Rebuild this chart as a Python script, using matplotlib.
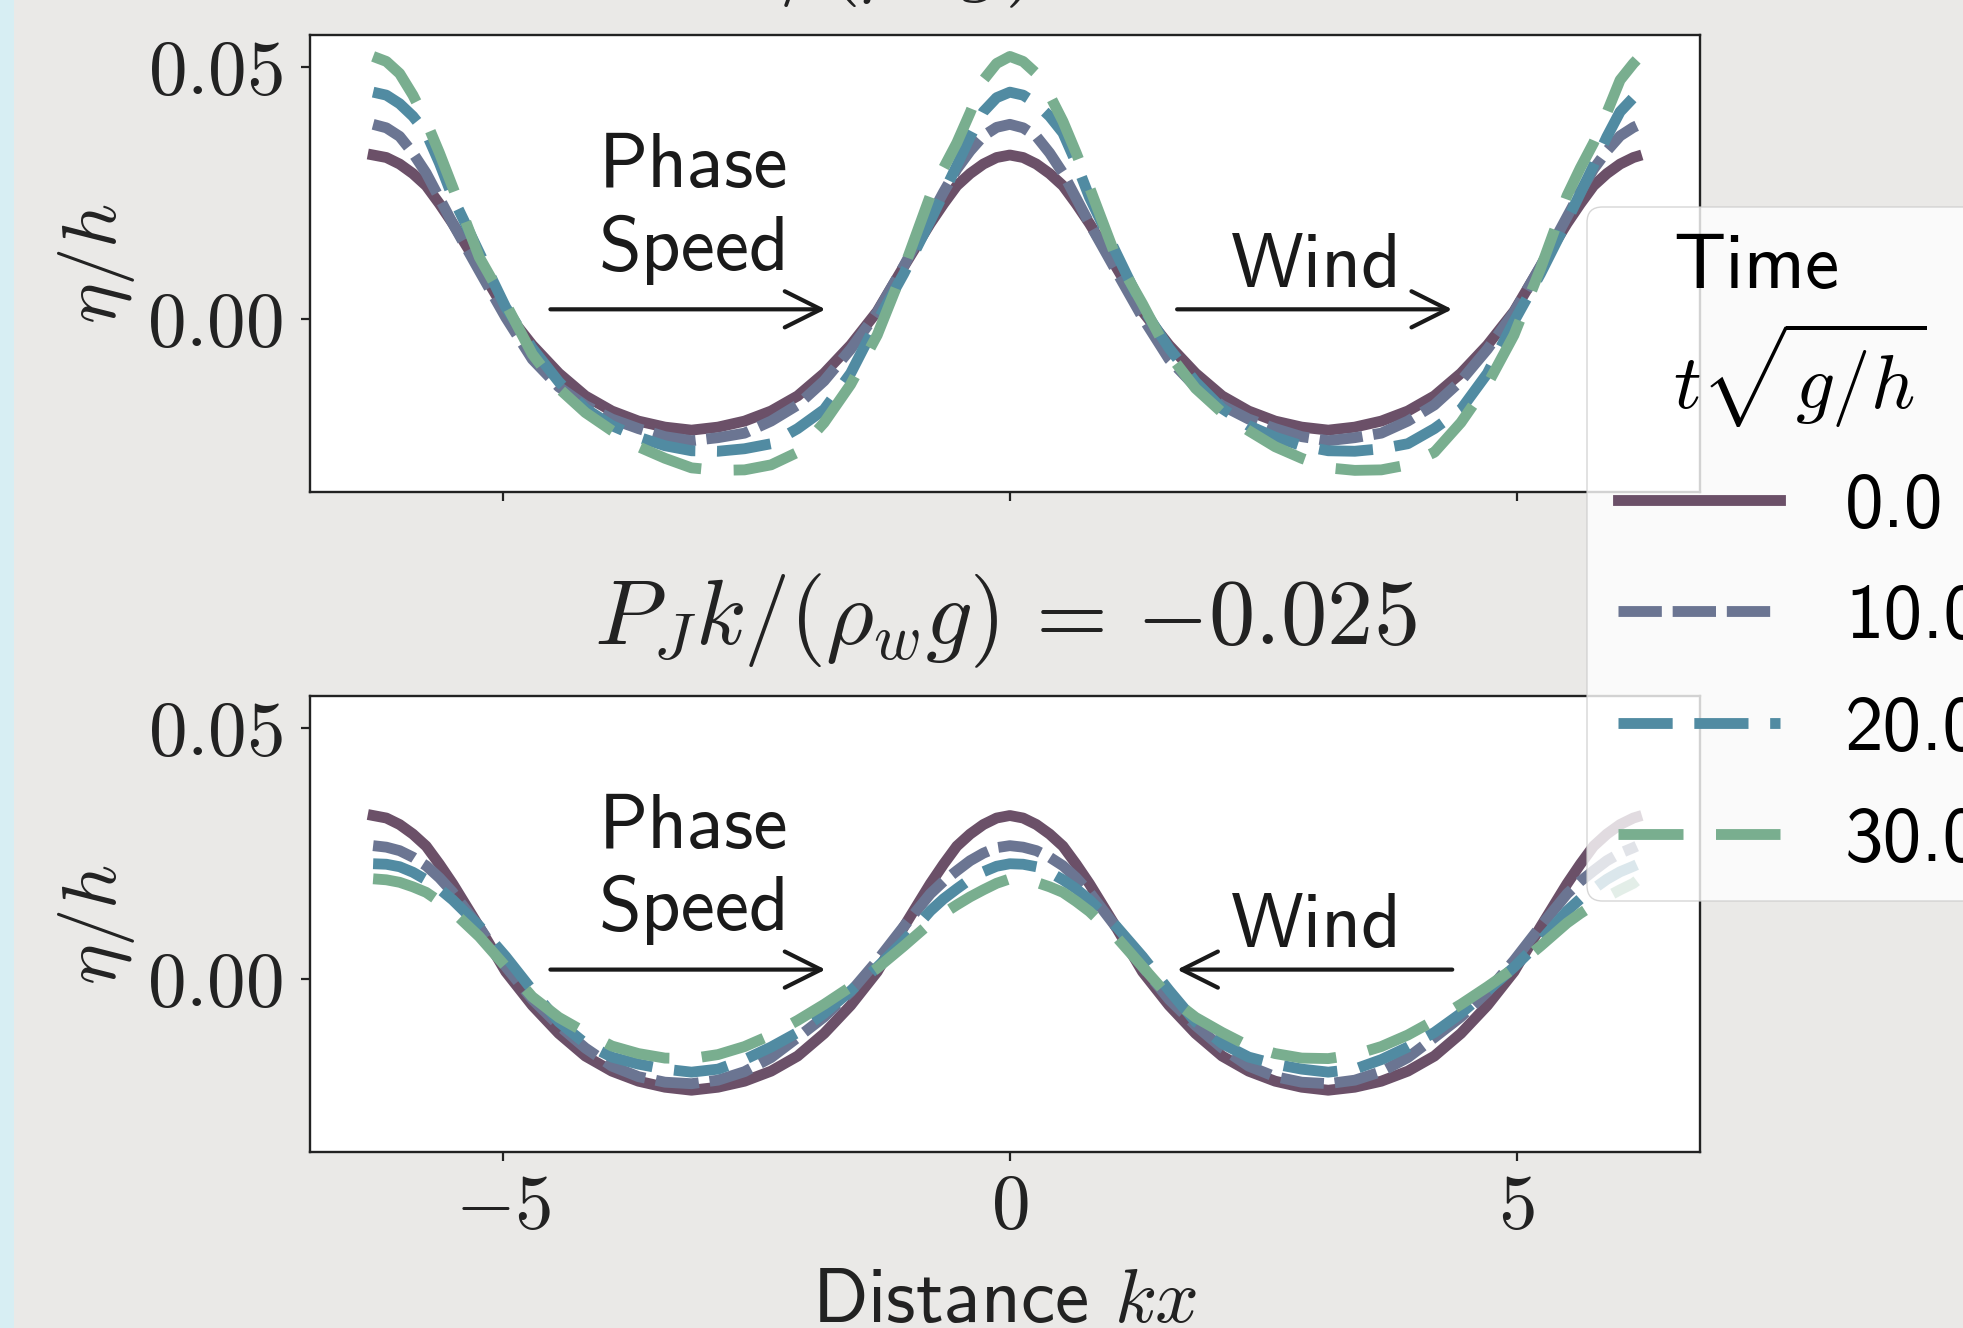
import numpy as np
import matplotlib
matplotlib.use("Agg")
import matplotlib.pyplot as plt
from matplotlib.patches import Rectangle, FancyBboxPatch

plt.rcParams['mathtext.fontset'] = 'cm'
plt.rcParams['font.family'] = ['cmss10', 'DejaVu Sans']
plt.rcParams['axes.unicode_minus'] = False
FS = 55.5
plt.rcParams['font.size'] = FS

# phase points of one wave period, in units of pi/24 (finer near the crest)
period_units = [-24, -22, -20, -18, -16, -14, -12, -10, -8, -6, -5, -4, -3, -2, -1,
                0, 1, 2, 3, 4, 5, 6, 8, 10, 12, 14, 16, 18, 20, 22]
end_unit = 47.25   # last sample, just short of 2*pi

times = [0.0, 10.0, 20.0, 30.0]
forcing = ['0.025', '-0.025']

# eta/h over one period (values at period_units) + value at the last sample
# upper panel, P_J k/(rho_w g) = 0.025
up_t0 = [-0.0221, -0.0215, -0.0203, -0.0183, -0.0153, -0.0108, -0.0052, 0.0015, 0.0104, 0.0190,
         0.0229, 0.0265, 0.0289, 0.0308, 0.0321, 0.0326, 0.0321, 0.0308, 0.0289, 0.0265,
         0.0229, 0.0190, 0.0104, 0.0015, -0.0052, -0.0108, -0.0153, -0.0183, -0.0203, -0.0215]
up_t10 = [-0.0242, -0.0236, -0.0227, -0.0203, -0.0171, -0.0123, -0.0060, 0.0013, 0.0105, 0.0203,
          0.0252, 0.0298, 0.0334, 0.0364, 0.0381, 0.0387, 0.0380, 0.0363, 0.0330, 0.0290,
          0.0240, 0.0190, 0.0096, 0.0003, -0.0080, -0.0135, -0.0172, -0.0199, -0.0218, -0.0234]
up_t20 = [-0.0262, -0.0263, -0.0258, -0.0248, -0.0218, -0.0180, -0.0108, -0.0005, 0.0090, 0.0195,
          0.0250, 0.0305, 0.0362, 0.0412, 0.0440, 0.0451, 0.0445, 0.0428, 0.0403, 0.0370,
          0.0310, 0.0242, 0.0132, 0.0023, -0.0058, -0.0125, -0.0178, -0.0212, -0.0235, -0.0252]
up_t30 = [-0.0296, -0.0301, -0.0300, -0.0290, -0.0265, -0.0206, -0.0130, -0.0032, 0.0100, 0.0245,
          0.0300, 0.0350, 0.0410, 0.0475, 0.0508, 0.0522, 0.0512, 0.0488, 0.0445, 0.0393,
          0.0330, 0.0262, 0.0123, 0.0030, -0.0070, -0.0138, -0.0186, -0.0222, -0.0254, -0.0277]
up_end = [0.0323, 0.0384, 0.0446, 0.0515]

# lower panel, P_J k/(rho_w g) = -0.025
lo_t0 = list(up_t0)
lo_t10 = [-0.0208, -0.0201, -0.0184, -0.0156, -0.0116, -0.0075, -0.0025, 0.0037, 0.0105, 0.0170,
          0.0195, 0.0216, 0.0236, 0.0251, 0.0262, 0.0266, 0.0263, 0.0256, 0.0243, 0.0226,
          0.0202, 0.0173, 0.0104, 0.0025, -0.0040, -0.0092, -0.0137, -0.0173, -0.0194, -0.0205]
lo_t20 = [-0.0185, -0.0179, -0.0160, -0.0135, -0.0106, -0.0068, -0.0023, 0.0024, 0.0076, 0.0136,
          0.0160, 0.0180, 0.0199, 0.0214, 0.0225, 0.0230, 0.0229, 0.0224, 0.0213, 0.0198,
          0.0180, 0.0158, 0.0106, 0.0045, -0.0022, -0.0085, -0.0128, -0.0155, -0.0169, -0.0179]
lo_t30 = [-0.0158, -0.0150, -0.0134, -0.0111, -0.0082, -0.0050, -0.0015, 0.0022, 0.0066, 0.0112,
          0.0131, 0.0148, 0.0164, 0.0178, 0.0191, 0.0200, 0.0198, 0.0193, 0.0184, 0.0173,
          0.0155, 0.0135, 0.0085, 0.0025, -0.0035, -0.0076, -0.0106, -0.0133, -0.0148, -0.0157]
lo_end = [0.0323, 0.0265, 0.0228, 0.0196]

panels = [[up_t0, up_t10, up_t20, up_t30], [lo_t0, lo_t10, lo_t20, lo_t30]]
ends = [up_end, lo_end]

xtick_vals = [-5, 0, 5]
xtick_labels = ['$-5$', '$0$', '$5$']
ytick_vals = [0.0, 0.05]
ytick_labels = ['$0.00$', '$0.05$']

colors = ['#6b5068', '#6b7592', '#518ba2', '#79ae8f']
styles = ['-', (0, (4, 1)), (0, (5, 2)), (0, (6, 3))]
LW = 7.8
INK = '#222222'

# two periods shown: from -2*pi to just below 2*pi
half = period_units.index(0)
units = ([u - 48 for u in period_units[half:]] + period_units
         + [u + 48 for u in period_units[:half]] + [end_unit])
kx = np.array(units) * np.pi / 24


def two_periods(vals, end):
    return vals[half:] + vals + vals[:half] + [end]


W, H = 1963, 1328
fig = plt.figure(figsize=(W / 100, H / 100), dpi=100, facecolor='#eae9e7')
fig.add_artist(Rectangle((0, 0), 14 / W, 1, transform=fig.transFigure,
                         facecolor='#d7eef3', edgecolor='none', zorder=0))

left, right = 310, 1699.6
boxes = [(35.3, 492), (696, 1152)]
axes = []
for top, bot in boxes:
    ax = fig.add_axes([left / W, 1 - bot / H, (right - left) / W, (bot - top) / H])
    ax.set_facecolor('white')
    axes.append(ax)

arrow_kw = dict(arrowstyle='->', lw=3, color='#1a1a1a', mutation_scale=65, shrinkA=0, shrinkB=0)
handles = []
for i, ax in enumerate(axes):
    for j, vals in enumerate(panels[i]):
        ln, = ax.plot(kx, two_periods(vals, ends[i][j]), color=colors[j], lw=LW,
                      linestyle=styles[j])
        if i == 0:
            handles.append(ln)
    ax.set_xlim(-6.906, 6.806)
    ax.set_ylim(-0.0344, 0.0564)
    ax.set_yticks(ytick_vals)
    ax.set_yticklabels(ytick_labels)
    ax.set_xticks(xtick_vals)
    ax.set_xticklabels(xtick_labels if i == 1 else [])
    for s in ax.spines.values():
        s.set_color(INK)
        s.set_linewidth(1.7)
    ax.tick_params(direction='out', length=6.5, width=1.6, color=INK, labelcolor=INK)
    ax.tick_params(axis='y', pad=13)
    ax.tick_params(axis='x', pad=9)
    ax.set_ylabel(r'$\eta/h$', color=INK)
    ax.yaxis.set_label_coords(-0.1245, 0.5)
    ax.set_title(r'$P_J k/(\rho_w g)\,=\,{%s}$' % forcing[i], pad=37, color=INK)

    # phase speed and wind arrows
    ax.text(0.276, 0.486, 'Phase\nSpeed', transform=ax.transAxes, ha='center', va='baseline',
            ma='center', linespacing=1.23, color='#1a1a1a')
    ax.annotate('', xy=(0.371, 0.40), xytext=(0.173, 0.40), xycoords='axes fraction',
                arrowprops=arrow_kw)
    ax.text(0.724, 0.449, 'Wind', transform=ax.transAxes, ha='center', va='baseline',
            color='#1a1a1a')
    a, b = (0.624, 0.822) if not forcing[i].startswith('-') else (0.822, 0.624)
    ax.annotate('', xy=(b, 0.40), xytext=(a, 0.40), xycoords='axes fraction',
                arrowprops=arrow_kw)

axes[1].set_xlabel(r'Distance $kx$', color=INK)
axes[1].xaxis.set_label_coords(0.5, -0.255)

# legend frame (runs past the right edge of the picture)
fig.add_artist(FancyBboxPatch((15.87, (H - 901) / 100), 4.4, (901 - 207) / 100,
                              boxstyle='round,pad=0,rounding_size=0.154',
                              transform=fig.dpi_scale_trans, facecolor='white',
                              edgecolor='0.8', lw=1.0, alpha=0.8, zorder=4))
fig.legend(handles, ['%.1f' % t for t in times], title='Time\n$t\\sqrt{g/h}$',
           loc='upper left', bbox_to_anchor=(1587 / W, 1 - 203 / H), bbox_transform=fig.transFigure,
           borderaxespad=0, fontsize=FS, title_fontsize=FS, handlelength=2.1, handletextpad=0.85,
           labelspacing=0.55, frameon=False)

fig.savefig('out.png', dpi=100, facecolor=fig.get_facecolor())
